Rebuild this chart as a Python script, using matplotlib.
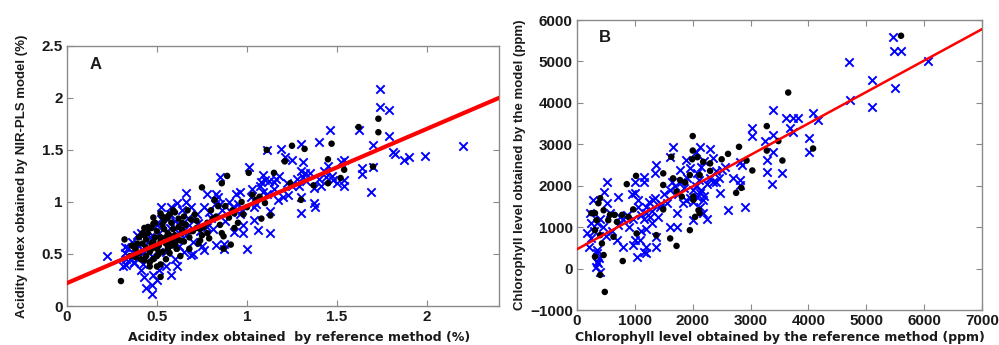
import matplotlib
matplotlib.use("Agg")
import matplotlib.pyplot as plt
import numpy as np

plt.rcParams['font.family'] = ['Liberation Sans', 'DejaVu Sans']

# ---------------- Panel A data (acidity, %) ----------------
a_blue_x = [0.22, 1.74, 1.74, 1.79, 1.79, 2.20, 1.99, 1.90, 1.87, 1.81, 1.82, 1.70, 1.69, 1.64, 1.64, 1.70,
            1.62, 1.46, 1.40, 1.30, 1.31, 1.25, 1.30, 1.31, 1.29, 1.30, 1.30, 1.37, 1.38, 1.23, 1.17, 1.19,
            1.21, 1.11, 1.01, 1.13, 1.00, 1.06, 1.04, 1.13, 1.04, 1.10, 1.08, 1.15, 1.09, 0.96, 0.97, 0.98,
            0.87, 0.87, 0.85, 0.83, 0.78, 0.66, 0.61, 0.52, 0.41, 0.32, 0.32, 0.33, 0.37, 0.43, 0.44, 0.47,
            0.47, 0.51, 0.61, 0.69, 0.76, 0.83, 0.93, 1.48, 1.54, 1.54, 1.50, 1.54, 1.44, 1.41, 1.37,
            0.35, 0.38, 0.40, 0.42, 0.44, 0.45, 0.47, 0.49, 0.51, 0.53, 0.55, 0.57, 0.59, 0.60, 0.62, 0.64,
            0.66, 0.68, 0.70, 0.72, 0.74, 0.76, 0.78, 0.80, 0.82, 0.84, 0.86, 0.88, 0.90, 0.92, 0.94, 0.96,
            0.98, 1.02, 1.05, 1.07, 1.09, 1.12, 1.15, 1.18, 1.20, 1.25, 1.28, 1.33, 1.35, 1.40, 1.43, 1.47,
            1.52, 0.48, 0.55, 0.60, 0.65, 0.58, 0.50, 0.41, 0.37, 0.33, 0.45, 0.54, 0.63, 0.70, 0.75, 0.52,
            0.58, 0.66, 0.39, 0.43, 0.36, 0.46, 0.56, 0.62, 0.67, 0.73, 0.79, 0.85, 0.91, 0.95, 1.03, 1.11,
            1.16, 1.22, 1.32, 1.45, 0.31, 0.34, 0.50, 0.57, 0.69, 0.81]
a_blue_y = [0.48, 2.09, 1.91, 1.88, 1.63, 1.54, 1.44, 1.43, 1.40, 1.48, 1.46, 1.55, 1.10, 1.27, 1.33, 1.34,
            1.69, 1.69, 1.58, 1.56, 1.38, 1.40, 1.30, 1.24, 1.15, 1.05, 0.89, 0.99, 0.95, 1.07, 1.02, 1.51,
            1.43, 1.50, 1.34, 0.70, 0.55, 0.73, 0.83, 0.91, 0.95, 1.21, 1.19, 1.19, 1.26, 1.10, 0.92, 0.70,
            0.55, 0.60, 1.24, 1.08, 1.08, 1.09, 0.99, 0.84, 0.70, 0.57, 0.51, 0.39, 0.41, 0.28, 0.17, 0.12,
            0.20, 0.35, 0.38, 0.49, 0.54, 0.59, 0.71, 1.21, 1.40, 1.15, 1.18, 1.21, 1.24, 1.15, 1.13,
            0.45, 0.50, 0.58, 0.40, 0.55, 0.62, 0.48, 0.58, 0.70, 0.62, 0.52, 0.75, 0.65, 0.82, 0.58, 0.92,
            0.68, 0.78, 0.62, 0.88, 0.72, 0.95, 0.76, 0.85, 0.98, 1.05, 0.92, 0.82, 1.00, 0.95, 1.08, 0.88,
            0.78, 1.05, 0.98, 1.15, 1.10, 1.20, 1.12, 1.25, 1.05, 1.15, 1.22, 1.20, 1.28, 1.22, 1.30, 1.25,
            1.38, 0.30, 0.38, 0.45, 0.52, 0.30, 0.25, 0.35, 0.42, 0.45, 0.72, 0.86, 0.78, 0.50, 0.58, 0.95,
            0.95, 1.00, 0.68, 0.52, 0.62, 0.66, 0.64, 0.70, 0.85, 0.80, 0.90, 0.98, 0.90, 0.98, 1.12, 1.08,
            1.22, 1.18, 1.28, 1.35, 0.38, 0.56, 0.78, 0.88, 0.95, 0.74]

a_black_x = [1.73, 1.73, 1.62, 1.70, 1.47, 1.45, 1.32, 1.25, 1.21, 1.11, 1.15, 1.24, 1.30, 1.37, 1.45, 1.54,
             1.52, 1.01, 1.03, 1.10, 1.13, 1.08, 0.89, 0.86, 0.75, 0.82, 0.93, 0.93, 0.87, 0.87, 0.91, 0.74,
             0.78, 0.72, 0.69, 0.64, 0.61, 0.57, 0.52, 0.50, 0.46, 0.43, 0.40, 0.32, 0.30, 0.43, 0.48, 0.52,
             0.56, 0.59, 0.63, 0.65,
             0.45, 0.48, 0.50, 0.52, 0.53, 0.55, 0.56, 0.58, 0.60, 0.62, 0.47, 0.50, 0.53, 0.55, 0.58, 0.42,
             0.40, 0.38, 0.44, 0.46, 0.52, 0.57, 0.61, 0.64, 0.66, 0.68, 0.70, 0.72, 0.75, 0.78, 0.80, 0.83,
             0.85, 0.88, 0.90, 0.95, 0.97, 1.00, 1.05, 0.60, 0.56, 0.48, 0.44, 0.36, 0.35, 0.41, 0.63, 0.68,
             0.73, 0.79, 0.86,
             0.47, 0.49, 0.51, 0.54, 0.57, 0.59, 0.46, 0.50, 0.54, 0.58, 0.62, 0.44, 0.48, 0.52, 0.56, 0.60,
             0.42, 0.45, 0.49, 0.53, 0.57, 0.61, 0.65, 0.39, 0.43, 0.47, 0.51, 0.55, 0.67, 0.71, 0.76, 0.81,
             0.84, 0.92, 0.98, 1.07, 0.64, 0.69, 0.74, 0.38]
a_black_y = [1.80, 1.67, 1.72, 1.34, 1.56, 1.41, 1.51, 1.54, 1.39, 1.50, 1.28, 1.18, 1.02, 1.16, 1.18, 1.31,
             1.23, 1.28, 1.07, 0.99, 0.87, 0.84, 1.25, 1.18, 1.14, 1.02, 0.89, 0.75, 0.67, 0.55, 0.59, 0.63,
             0.70, 0.75, 0.83, 0.73, 0.55, 0.51, 0.28, 0.38, 0.38, 0.44, 0.51, 0.64, 0.24, 0.75, 0.79, 0.89,
             0.86, 0.92, 0.63, 0.86,
             0.70, 0.62, 0.72, 0.66, 0.78, 0.60, 0.70, 0.80, 0.68, 0.76, 0.55, 0.48, 0.52, 0.45, 0.58, 0.60,
             0.66, 0.55, 0.48, 0.42, 0.40, 0.62, 0.55, 0.70, 0.78, 0.66, 0.72, 0.82, 0.68, 0.80, 0.92, 0.86,
             0.78, 0.96, 0.85, 0.80, 1.00, 0.95, 1.02, 0.90, 0.85, 0.85, 0.64, 0.58, 0.48, 0.45, 0.48, 0.55,
             0.60, 0.65, 0.70,
             0.75, 0.66, 0.58, 0.74, 0.68, 0.74, 0.52, 0.55, 0.82, 0.64, 0.84, 0.56, 0.45, 0.62, 0.55, 0.60,
             0.70, 0.76, 0.80, 0.86, 0.88, 0.65, 0.62, 0.60, 0.68, 0.60, 0.50, 0.66, 0.92, 0.88, 0.76, 0.84,
             0.96, 0.92, 0.88, 1.05, 0.80, 0.72, 0.74, 0.47]

a_fit_x = [0.0, 2.4]
a_fit_y = [0.22, 2.00]

# ---------------- Panel B data (chlorophyll, ppm) ----------------
b_blue_x = [5460, 5480, 5600, 6070, 4700, 5100, 4710, 5500, 5100, 4170, 4080, 4010, 4010, 3390, 3390, 3390,
            3370, 3540, 3250, 3280, 3280, 3030, 3030, 2900, 2810, 2810, 2810, 2610, 2470, 2500, 2410, 2350,
            2300, 3620, 3680, 3740, 3820, 3740, 2120, 2060, 1660, 1370, 1350, 1150, 1150, 1000, 1000, 510,
            460, 280, 220, 170, 200, 250, 340, 370, 400, 340, 690, 710, 570, 860, 800, 970, 1030, 1090,
            1150, 1200, 1200, 1370, 1370, 1260, 1200, 1320, 1430, 1550, 1610, 1720, 1720, 1840, 1890, 2010,
            2070, 2120, 2120, 2010, 2240, 2180, 2180, 2070, 1950, 1890, 1780, 1610, 970, 740, 510,
            1050, 1100, 1150, 1200, 1250, 1300, 1350, 1400, 1100, 1200, 1300, 1000, 900, 800, 700, 600,
            500, 450, 350, 400, 300, 250, 350, 380, 330, 1700, 1750, 1800, 1850, 1900, 1950, 2000, 2050,
            2100, 2150, 2200, 2250, 2300, 2350, 2400, 2450, 1650, 1600, 2150, 2200, 2550, 2700, 2850, 1500,
            1450, 950, 1050]
b_blue_y = [5580, 5260, 5260, 5010, 4990, 4550, 4070, 4350, 3910, 3590, 3750, 3150, 2820, 3830, 3230, 2820,
            2040, 2300, 3070, 2620, 2340, 3390, 3190, 1500, 2580, 2140, 2020, 1420, 1820, 2380, 2100, 2660,
            2900, 3630, 3390, 3630, 3630, 3310, 2940, 2820, 2940, 2500, 2300, 2220, 2100, 2100, 1820, 2100,
            1860, 1660, 1340, 850, 530, 730, 370, 130, -70, 170, 690, 1740, 1340, 1300, 530, 570, 290, 690,
            410, 370, 530, 530, 770, 1250, 1500, 1660, 1500, 1580, 1010, 1010, 1340, 1580, 1660, 1900,
            1740, 1820, 1500, 1170, 1210, 1660, 1340, 2300, 2420, 2620, 2380, 2700, 1210, 1250, 1580,
            1500, 1300, 1200, 1350, 1600, 1400, 1700, 1250, 900, 950, 1100, 700, 1000, 1200, 1050, 900,
            800, 1000, 1100, 1200, 900, 1100, 450, 250, 50, 2000, 1800, 2100, 1950, 2200, 1700, 1600, 2000,
            2150, 1900, 1750, 2050, 2200, 2100, 2350, 2200, 2100, 1900, 2450, 2600, 2450, 2200, 2500, 1800,
            1550, 1800, 1650]

b_black_x = [5600, 3650, 4080, 3550, 3480, 3280, 3280, 3030, 2930, 2800, 2840, 2750, 2610, 2500, 2300, 2300,
             2180, 2000, 2000, 2080, 1990, 2120, 1950, 1870, 1780, 1660, 1630, 1490, 1490, 1720, 1810, 2010,
             2010, 2120, 2100, 2040, 1950, 1720, 1610, 1490, 1370, 1020, 970, 1030, 860, 890, 790, 630, 650,
             460, 400, 370, 310, 250, 310, 400, 430, 460, 310, 400, 480, 340, 570, 540, 690, 780]
b_black_y = [5620, 4250, 2900, 2610, 3080, 3440, 2850, 2370, 2610, 2940, 1950, 1830, 2770, 2640, 2540, 2360,
             2580, 3200, 2850, 2690, 2640, 2260, 2260, 2080, 2140, 2180, 2700, 2300, 2020, 1860, 1740, 1740,
             1660, 1340, 1410, 1250, 930, 550, 730, 1430, 810, 2240, 1430, 850, 2040, 1250, 185, 770, 1300,
             1410, 1700, 1580, 1340, 1340, 930, 810, 610, 330, 290, -150, -560, 1170, 1300, 1170, 1130, 1300]

b_fit_x = [0, 7000]
b_fit_y = [470, 5780]

# ---------------- Figure ----------------
fig = plt.figure(figsize=(9.99, 3.45), dpi=100)
axA = fig.add_axes([0.067, 0.113, 0.4325, 0.754])
axB = fig.add_axes([0.5776, 0.101, 0.4054, 0.841])

txt = '#1a1a1a'
spine_c = '#8a8a8a'
xlab_font = ['DejaVu Sans']

def style(ax):
    for s in ax.spines.values():
        s.set_color(spine_c)
        s.set_linewidth(1.0)
    ax.tick_params(direction='in', length=4, width=0.8, color=spine_c,
                   top=True, right=True, labelsize=11, labelcolor=txt, pad=3)
    for lab in ax.get_xticklabels() + ax.get_yticklabels():
        lab.set_fontweight('bold')

# Panel A
axA.scatter(a_blue_x, a_blue_y, marker='x', s=36, c='#0000ff', linewidths=1.4, zorder=2)
axA.scatter(a_black_x, a_black_y, marker='o', s=22, c='black', edgecolors='none', zorder=3)
axA.plot(a_fit_x, a_fit_y, color='#ff0000', lw=3.0, zorder=4)
axA.set_xlim(0, 2.4)
axA.set_ylim(0, 2.5)
axA.set_xticks([0, 0.5, 1, 1.5, 2])
axA.set_xticklabels(['0', '0.5', '1', '1.5', '2'])
axA.set_yticks([0, 0.5, 1, 1.5, 2, 2.5])
axA.set_yticklabels(['0', '0.5', '1', '1.5', '2', '2.5'])
style(axA)
axA.set_xlabel('Acidity index obtained  by reference method (%)', fontsize=9, fontweight='bold',
               color=txt, family=xlab_font)
axA.xaxis.set_label_coords(0.537, -0.095)
axA.set_ylabel('Acidity index obtained by NIR-PLS model (%)', fontsize=9.5, fontweight='bold',
               color=txt, labelpad=10)
axA.text(0.053, 0.93, 'A', transform=axA.transAxes, fontsize=12, fontweight='bold',
         color=txt, va='center', ha='left')

# Panel B
axB.scatter(b_blue_x, b_blue_y, marker='x', s=36, c='#0000ff', linewidths=1.4, zorder=2)
axB.scatter(b_black_x, b_black_y, marker='o', s=22, c='black', edgecolors='none', zorder=3)
axB.plot(b_fit_x, b_fit_y, color='#ff0000', lw=1.8, zorder=4)
axB.set_xlim(0, 7000)
axB.set_ylim(-1000, 6000)
axB.set_xticks(np.arange(0, 7001, 1000))
axB.set_yticks(np.arange(-1000, 6001, 1000))
style(axB)
axB.set_xlabel('Chlorophyll level obtained by the reference method (ppm)', fontsize=9,
               fontweight='bold', color=txt, labelpad=2, family=xlab_font)
axB.set_ylabel('Chlorophyll level obtained by the model (ppm)', fontsize=9.5, fontweight='bold',
               color=txt, labelpad=3)
axB.text(0.054, 0.94, 'B', transform=axB.transAxes, fontsize=12, fontweight='bold',
         color=txt, va='center', ha='left')

fig.savefig('out.png', dpi=100)
